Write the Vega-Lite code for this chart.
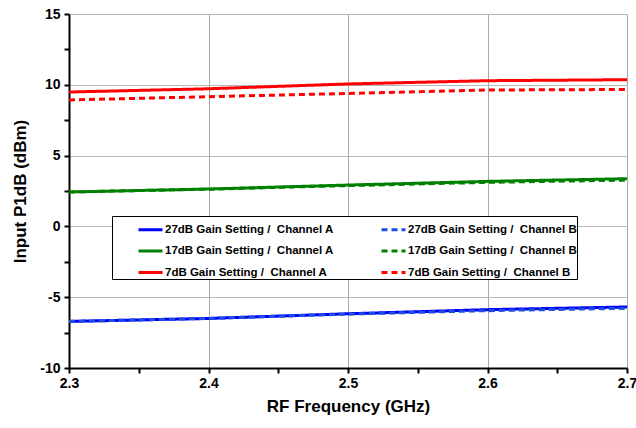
{
  "$schema": "https://vega.github.io/schema/vega-lite/v6.json",
  "width": 558,
  "height": 354,
  "autosize": {"type": "none"},
  "padding": {"left": 69, "top": 14, "right": 9, "bottom": 60},
  "background": "white",
  "config": {
    "view": {"stroke": null},
    "font": "Liberation Sans"
  },
  "data": {
    "values": [
      {"f": 2.3, "p": -6.71, "s": "27dB Gain Setting /  Channel A"},
      {"f": 2.4, "p": -6.50, "s": "27dB Gain Setting /  Channel A"},
      {"f": 2.5, "p": -6.17, "s": "27dB Gain Setting /  Channel A"},
      {"f": 2.6, "p": -5.88, "s": "27dB Gain Setting /  Channel A"},
      {"f": 2.7, "p": -5.69, "s": "27dB Gain Setting /  Channel A"},
      {"f": 2.3, "p": -6.71, "s": "27dB Gain Setting /  Channel B"},
      {"f": 2.4, "p": -6.50, "s": "27dB Gain Setting /  Channel B"},
      {"f": 2.5, "p": -6.19, "s": "27dB Gain Setting /  Channel B"},
      {"f": 2.6, "p": -5.95, "s": "27dB Gain Setting /  Channel B"},
      {"f": 2.7, "p": -5.78, "s": "27dB Gain Setting /  Channel B"},
      {"f": 2.3, "p": 2.43, "s": "17dB Gain Setting /  Channel A"},
      {"f": 2.4, "p": 2.64, "s": "17dB Gain Setting /  Channel A"},
      {"f": 2.5, "p": 2.92, "s": "17dB Gain Setting /  Channel A"},
      {"f": 2.6, "p": 3.18, "s": "17dB Gain Setting /  Channel A"},
      {"f": 2.7, "p": 3.37, "s": "17dB Gain Setting /  Channel A"},
      {"f": 2.3, "p": 2.43, "s": "17dB Gain Setting /  Channel B"},
      {"f": 2.4, "p": 2.63, "s": "17dB Gain Setting /  Channel B"},
      {"f": 2.5, "p": 2.88, "s": "17dB Gain Setting /  Channel B"},
      {"f": 2.6, "p": 3.11, "s": "17dB Gain Setting /  Channel B"},
      {"f": 2.7, "p": 3.27, "s": "17dB Gain Setting /  Channel B"},
      {"f": 2.3, "p": 9.49, "s": "7dB Gain Setting /  Channel A"},
      {"f": 2.4, "p": 9.72, "s": "7dB Gain Setting /  Channel A"},
      {"f": 2.5, "p": 10.06, "s": "7dB Gain Setting /  Channel A"},
      {"f": 2.6, "p": 10.29, "s": "7dB Gain Setting /  Channel A"},
      {"f": 2.7, "p": 10.36, "s": "7dB Gain Setting /  Channel A"},
      {"f": 2.3, "p": 8.93, "s": "7dB Gain Setting /  Channel B"},
      {"f": 2.4, "p": 9.16, "s": "7dB Gain Setting /  Channel B"},
      {"f": 2.5, "p": 9.39, "s": "7dB Gain Setting /  Channel B"},
      {"f": 2.6, "p": 9.63, "s": "7dB Gain Setting /  Channel B"},
      {"f": 2.7, "p": 9.67, "s": "7dB Gain Setting /  Channel B"}
    ]
  },
  "mark": {"type": "line", "strokeWidth": 3, "clip": true},
  "encoding": {
    "x": {
      "field": "f",
      "type": "quantitative",
      "scale": {"domain": [2.3, 2.7], "nice": false, "zero": false},
      "axis": {
        "title": "RF Frequency (GHz)",
        "values": [2.3, 2.35, 2.4, 2.45, 2.5, 2.55, 2.6, 2.65, 2.7],
        "labelExpr": "abs(datum.value*10 - round(datum.value*10)) > 0.01 ? '' : format(datum.value, '.1f')",
        "gridOpacity": {"condition": {"test": "abs(datum.value*10 - round(datum.value*10)) > 0.01", "value": 0}, "value": 1},
        "gridColor": "#A8A8A8",
        "gridWidth": 1,
        "domainColor": "black",
        "domainWidth": 2,
        "tickColor": "black",
        "tickWidth": 2,
        "tickSize": 5,
        "labelFont": "Liberation Sans",
        "labelFontWeight": "bold",
        "labelFontSize": 14,
        "labelColor": "black",
        "labelPadding": 3,
        "labelFlush": false,
        "titleFont": "Liberation Sans",
        "titleFontWeight": "bold",
        "titleFontSize": 17,
        "titleColor": "black",
        "titlePadding": 8
      }
    },
    "y": {
      "field": "p",
      "type": "quantitative",
      "scale": {"domain": [-10, 15], "nice": false, "zero": false},
      "axis": {
        "title": "Input P1dB (dBm)",
        "values": [-10, -7.5, -5, -2.5, 0, 2.5, 5, 7.5, 10, 12.5, 15],
        "labelExpr": "abs(datum.value % 5) > 0.01 ? '' : toString(datum.value)",
        "gridOpacity": {"condition": {"test": "abs(datum.value % 5) > 0.01", "value": 0}, "value": 1},
        "gridColor": "#B8B8B8",
        "gridWidth": 1,
        "domainColor": "black",
        "domainWidth": 2,
        "tickColor": "black",
        "tickWidth": 2,
        "tickSize": 5,
        "labelFont": "Liberation Sans",
        "labelFontWeight": "bold",
        "labelFontSize": 14,
        "labelColor": "black",
        "labelPadding": 4,
        "titleFont": "Liberation Sans",
        "titleFontWeight": "bold",
        "titleFontSize": 17,
        "titleColor": "black",
        "titlePadding": 10
      }
    },
    "color": {
      "field": "s",
      "type": "nominal",
      "scale": {
        "domain": [
          "27dB Gain Setting /  Channel A",
          "17dB Gain Setting /  Channel A",
          "7dB Gain Setting /  Channel A",
          "27dB Gain Setting /  Channel B",
          "17dB Gain Setting /  Channel B",
          "7dB Gain Setting /  Channel B"
        ],
        "range": ["#0000FF", "#008000", "#FF0000", "#1A4FE0", "#008000", "#FF0000"]
      },
      "legend": {
        "title": null,
        "orient": "none",
        "legendX": 43,
        "legendY": 202,
        "columns": 2,
        "columnPadding": 21,
        "rowPadding": 1.5,
        "padding": 0,
        "symbolType": "stroke",
        "symbolSize": 576,
        "symbolStrokeWidth": 3,
        "symbolOffset": 25,
        "labelOffset": 1,
        "labelExpr": "replace(datum.label, '  ', ' \u00a0')",
        "labelFont": "Liberation Sans",
        "labelFontWeight": "bold",
        "labelFontSize": 11.5,
        "labelColor": "black",
        "labelLimit": 400,
        "strokeColor": "black",
        "fillColor": "white",
        "direction": "vertical"
      }
    },
    "strokeDash": {
      "field": "s",
      "type": "nominal",
      "scale": {
        "domain": [
          "27dB Gain Setting /  Channel A",
          "17dB Gain Setting /  Channel A",
          "7dB Gain Setting /  Channel A",
          "27dB Gain Setting /  Channel B",
          "17dB Gain Setting /  Channel B",
          "7dB Gain Setting /  Channel B"
        ],
        "range": [[1, 0], [1, 0], [1, 0], [6, 4], [6, 4], [6, 4]]
      },
      "legend": null
    }
  }
}
